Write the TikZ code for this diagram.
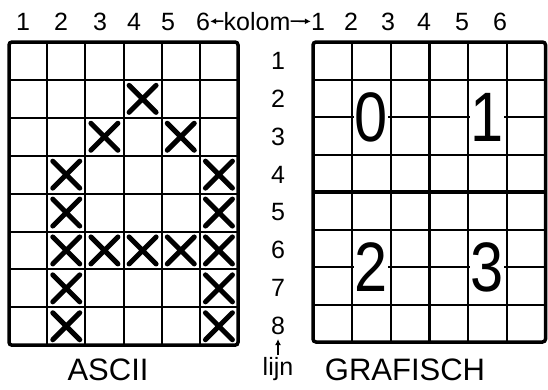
\documentclass[tikz,border=0pt]{standalone}
\usepackage{fontspec}
\setmainfont{Liberation Sans}
\newfontfamily\bigdigitfont{Liberation Sans}[FakeStretch=0.85]
\usetikzlibrary{arrows.meta, shapes.misc, positioning}

\begin{document}
\begin{tikzpicture}[
            x=1pt, y=-1pt,
            frame/.style={line width=3.5pt, rounded corners=3pt},
            gridline/.style={line width=2pt},
            heavyline/.style={line width=3.5pt},
            kreuz/.style={cross out, draw, line width=5pt, line cap=round, minimum size=22pt, inner sep=0pt},
            lab/.style={font=\fontsize{25}{25}\selectfont, inner sep=0pt},
            rastertitel/.style={font=\fontsize{31}{31}\selectfont, inner sep=0pt},
            bigdigit/.style={font=\bigdigitfont\fontsize{70}{70}\selectfont, fill=white, inner sep=0.5pt},
            arr/.style={-{Latex[length=6pt,width=6pt]}, line width=1.6pt}
        ]
            \useasboundingbox (0,0) rectangle (548,389);

            % kolom labels
            \node[lab, anchor=base] (lc1) at (23,30) {1};
            \node[lab, anchor=base] (lc2) at (61,30) {2};
            \node[lab, anchor=base] (lc3) at (100,30) {3};
            \node[lab, anchor=base] (lc4) at (134,30) {4};
            \node[lab, anchor=base] (lc5) at (168,30) {5};
            \node[lab, anchor=base] (lc6) at (203,30) {6};
            \node[lab, anchor=base] (kolom) at (257,30) {kolom};
            \node[lab, anchor=base] (rc1) at (318,30) {1};
            \node[lab, anchor=base] (rc2) at (351,30) {2};
            \node[lab, anchor=base] (rc3) at (388,30) {3};
            \node[lab, anchor=base] (rc4) at (424,30) {4};
            \node[lab, anchor=base] (rc5) at (462,30) {5};
            \node[lab, anchor=base] (rc6) at (500,30) {6};
            \draw[arr] (kolom.west) -- (lc6.east);
            \draw[arr] (kolom.east) -- (rc1.west);

            % lijn labels
            \node[lab] (r1) at (278,61) {1};
            \node[lab] (r2) at (278,99) {2};
            \node[lab] (r3) at (278,137) {3};
            \node[lab] (r4) at (278,175) {4};
            \node[lab] (r5) at (278,212) {5};
            \node[lab] (r6) at (278,250) {6};
            \node[lab] (r7) at (278,288) {7};
            \node[lab] (r8) at (278,326) {8};
            \node[lab] (lijn) at (278,369) {lijn};
            \draw[arr, shorten <=2pt, shorten >=4pt] (lijn.north) -- (r8.south);

            % ASCII raster
            \begin{scope}[shift={(9,42)}, x=38.17pt, y=-37.9pt]
                \foreach \c in {1,...,5} \draw[gridline] (\c,0) -- (\c,8);
                \foreach \r in {1,...,7} \draw[gridline] (0,\r) -- (6,\r);
                \draw[frame] (0,0) rectangle (6,8);

                \node[kreuz] (x24) at (3.5,1.5) {};
                \node[kreuz] (x33) at (2.5,2.5) {};
                \node[kreuz] (x35) at (4.5,2.5) {};
                \node[kreuz] (x42) at (1.5,3.5) {};
                \node[kreuz] (x46) at (5.5,3.5) {};
                \node[kreuz] (x52) at (1.5,4.5) {};
                \node[kreuz] (x56) at (5.5,4.5) {};
                \node[kreuz] (x62) at (1.5,5.5) {};
                \node[kreuz] (x63) at (2.5,5.5) {};
                \node[kreuz] (x64) at (3.5,5.5) {};
                \node[kreuz] (x65) at (4.5,5.5) {};
                \node[kreuz] (x66) at (5.5,5.5) {};
                \node[kreuz] (x72) at (1.5,6.5) {};
                \node[kreuz] (x76) at (5.5,6.5) {};
                \node[kreuz] (x82) at (1.5,7.5) {};
                \node[kreuz] (x86) at (5.5,7.5) {};
            \end{scope}

            % GRAFISCH raster
            \begin{scope}[shift={(313,42)}, x=38.75pt, y=-37.5pt]
                \foreach \c in {1,2,4,5} \draw[gridline] (\c,0) -- (\c,8);
                \foreach \r in {1,2,3,5,6,7} \draw[gridline] (0,\r) -- (6,\r);
                \draw[heavyline] (3,0) -- (3,8);
                \draw[heavyline] (0,4) -- (6,4);
                \draw[frame] (0,0) rectangle (6,8);

                \node[bigdigit] (g0) at (1.5,2) {0};
                \node[bigdigit] (g1) at (4.5,2) {1};
                \node[bigdigit] (g2) at (1.5,6) {2};
                \node[bigdigit] (g3) at (4.5,6) {3};
            \end{scope}

            \node[rastertitel] (ascii) at (108,370) {ASCII};
            \node[rastertitel] (grafisch) at (405,370) {GRAFISCH};
        \end{tikzpicture}
\end{document}
